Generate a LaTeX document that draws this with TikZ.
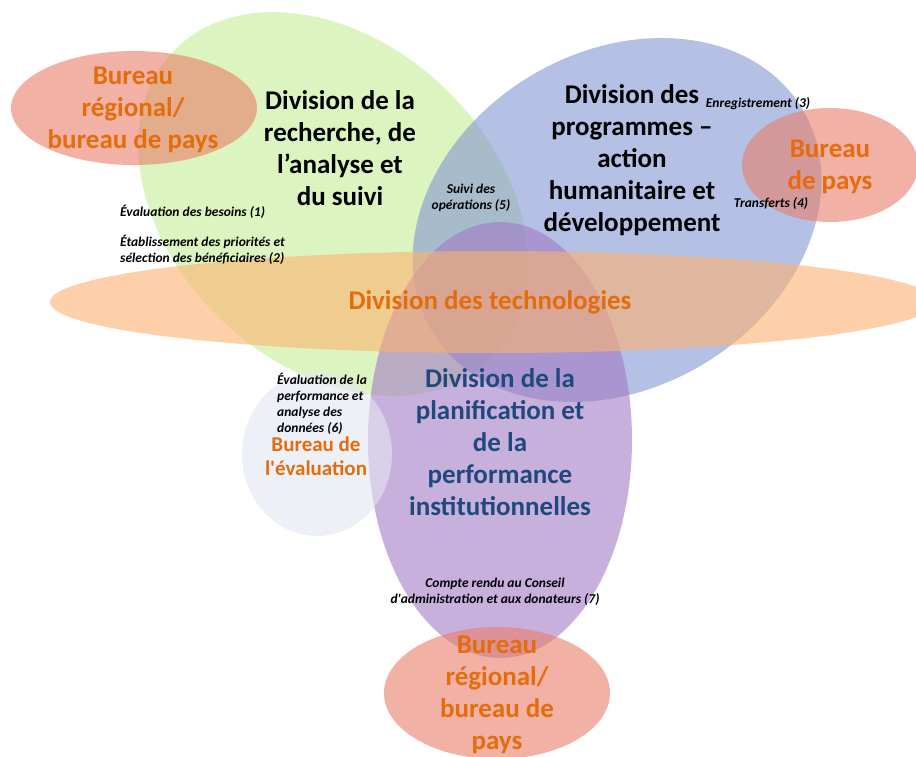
\documentclass[tikz,border=0pt]{standalone}
\usepackage{fontspec}
\setmainfont{Carlito}[Ligatures=TeXOff]
\definecolor{greenzone}{RGB}{197,238,150}
\definecolor{bluezone}{RGB}{130,150,210}
\definecolor{orangezone}{RGB}{252,177,113}
\definecolor{purplezone}{RGB}{163,123,197}
\definecolor{salmonzone}{RGB}{233,125,105}
\definecolor{evalzone}{RGB}{227,230,243}
\definecolor{officeorange}{RGB}{228,108,10}
\definecolor{navytext}{RGB}{31,73,125}
\begin{document}
\begin{tikzpicture}[x=1pt,y=-1pt,
  zone/.style={fill opacity=0.6},
  divtitle/.style={align=center,inner sep=0pt,font=\bfseries\fontsize{27}{32}\selectfont},
  bureau/.style={divtitle,text=officeorange},
  steplabel/.style={inner sep=0pt,font=\bfseries\itshape\fontsize{13.5}{16}\selectfont}]
\useasboundingbox (0,0) rectangle (916,756);
% overlapping zones
\fill[zone,greenzone,rotate around={-43.6:(333,204)}] (333,204) ellipse [x radius=221pt, y radius=161pt];
\fill[zone,bluezone,rotate around={31:(617,220)}] (617,220) ellipse [x radius=216pt, y radius=168pt];
\fill[zone,purplezone] (500,440) ellipse [x radius=132pt, y radius=218pt];
\fill[zone,orangezone] (493,302) ellipse [x radius=443pt, y radius=51pt];
\fill[zone,salmonzone] (134,108) ellipse [x radius=123pt, y radius=57pt];
\fill[zone,salmonzone] (830,165) ellipse [x radius=88pt, y radius=57pt];
\fill[zone,salmonzone] (497,693) ellipse [x radius=113pt, y radius=66pt];
\fill[zone,evalzone] (317,454) ellipse [x radius=75pt, y radius=82pt];
% division titles
\node[divtitle] (research) at (340,148) {Division de la\\recherche, de\\l’analyse et\\du suivi};
\node[divtitle] (programmes) at (632,160) {Division des\\programmes –\\action\\humanitaire et\\développement};
\node[divtitle,text=navytext] (planning) at (500,442) {Division de la\\planification et\\de la\\performance\\institutionnelles};
\node[bureau] (technology) at (490,302) {Division des technologies};
% offices
\node[bureau] (regionaltop) at (133,110) {Bureau\\régional/\\bureau de pays};
\node[bureau] (country) at (830,167) {Bureau\\de pays};
\node[bureau,font=\bfseries\fontsize{21}{23.5}\selectfont] (evaluation) at (316,456) {Bureau de\\l'évaluation};
\node[bureau] (regionalbottom) at (497,695) {Bureau\\régional/\\bureau de\\pays};
% process steps
\node[steplabel,anchor=west] (s1) at (120,212) {Évaluation des besoins (1)};
\node[steplabel,anchor=west,align=left] (s2) at (120,250) {Établissement des priorités et\\sélection des bénéficiaires (2)};
\node[steplabel] (s3) at (758,104) {Enregistrement (3)};
\node[steplabel] (s4) at (771,204) {Transferts (4)};
\node[steplabel,align=center] (s5) at (471,198) {Suivi des\\opérations (5)};
\node[steplabel,anchor=west,align=left] (s6) at (277,404) {Évaluation de la\\performance et\\analyse des\\données (6)};
\node[steplabel,align=center] (s7) at (495,592) {Compte rendu au Conseil\\d'administration et aux donateurs (7)};
\end{tikzpicture}
\end{document}
